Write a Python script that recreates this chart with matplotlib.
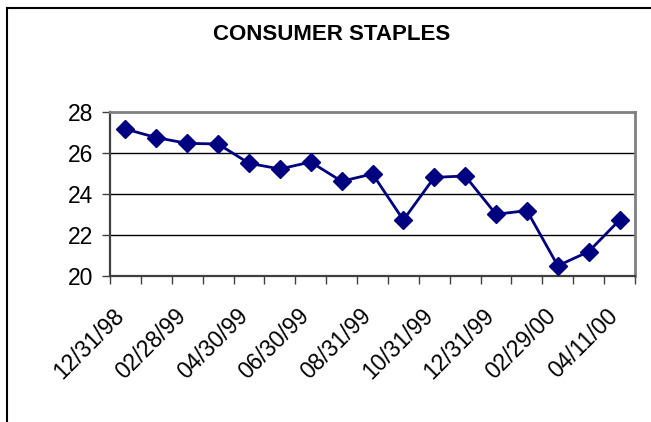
import numpy as np
import matplotlib
matplotlib.use("Agg")
import matplotlib.pyplot as plt
import matplotlib.transforms as mtransforms
from matplotlib.lines import Line2D

plt.rcParams['font.family'] = ['Liberation Sans', 'DejaVu Sans']

dates = ['12/31/98', '01/31/99', '02/28/99', '03/31/99', '04/30/99', '05/31/99',
         '06/30/99', '07/31/99', '08/31/99', '09/30/99', '10/31/99', '11/30/99',
         '12/31/99', '01/31/00', '02/29/00', '03/31/00', '04/11/00']
values = [27.17, 26.75, 26.47, 26.44, 25.5, 25.22, 25.56, 24.62, 24.98,
          22.73, 24.81, 24.88, 23.01, 23.19, 20.5, 21.19, 22.73]
yticks = [20, 22, 24, 26, 28]

fig = plt.figure(figsize=(6.51, 4.22), dpi=100)
ax = fig.add_axes([110/651, 1 - 276/422, 525/651, 164/422])

x = np.arange(len(values)) + 0.5
ax.plot(x, values, color='#000080', lw=2, marker='D', markersize=9.5,
        markerfacecolor='#000080', markeredgecolor='#000080', zorder=3)

ax.set_xlim(0, len(values))
ax.set_ylim(20, 28)
ax.set_yticks(yticks)
ax.set_yticklabels([str(t) for t in yticks], fontsize=16.5)
for t in yticks[1:-1]:
    ax.axhline(t, color='black', lw=1, zorder=1)

# ticks at category boundaries, labels on every other category
ax.set_xticks(np.arange(len(values) + 1))
ax.set_xticklabels([])
ax.set_xticks(x[::2], minor=True)
ax.set_xticklabels(dates[::2], minor=True, rotation=45, ha='right', va='top',
                   rotation_mode='anchor', fontsize=16.5)
ax.tick_params(axis='x', which='minor', length=0, pad=20.5)
ax.tick_params(axis='x', which='major', length=5.8, width=1, color='#404040')
ax.tick_params(axis='y', length=5.8, width=1, color='#404040', pad=6)

# nudge the rotated labels left so their right end sits under the point
shift = mtransforms.ScaledTranslation(-0.13, 0, fig.dpi_scale_trans)
for lab in ax.get_xticklabels(minor=True):
    lab.set_transform(lab.get_transform() + shift)

for s in ['top', 'right']:
    ax.spines[s].set_color('#808080')
    ax.spines[s].set_linewidth(2)
for s in ['left', 'bottom']:
    ax.spines[s].set_color('#404040')
    ax.spines[s].set_linewidth(1.6)

fig.text(332/651, 1 - 35/422, 'CONSUMER STAPLES', ha='center', va='center',
         fontsize=16, fontweight='bold')

# outer chart border (cut off at right and bottom)
fig.lines.append(Line2D([7/651, 7/651], [0, 1 - 8/422], color='black', lw=1.5,
                        transform=fig.transFigure))
fig.lines.append(Line2D([7/651, 1], [1 - 8/422, 1 - 8/422], color='black', lw=1.5,
                        transform=fig.transFigure))

fig.savefig('out.png', dpi=100)
